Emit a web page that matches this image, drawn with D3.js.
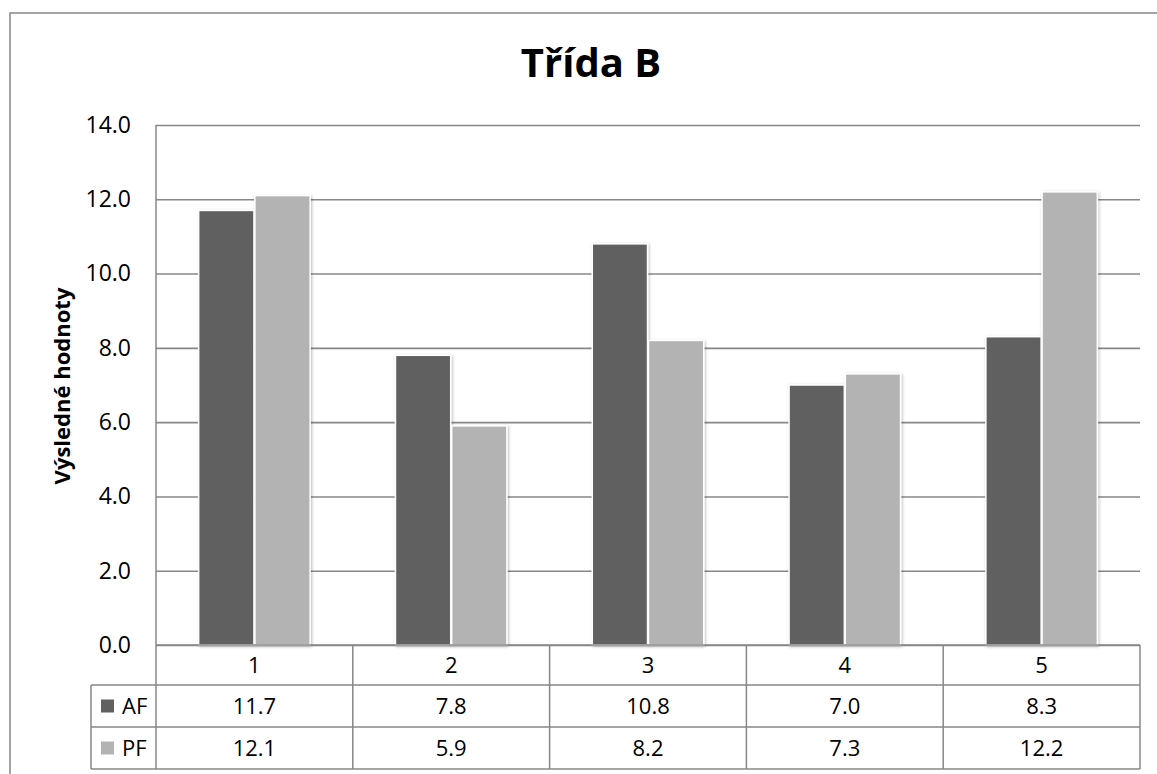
<!DOCTYPE html>
<html>
<head>
<meta charset="utf-8">
<script src="https://cdn.jsdelivr.net/npm/d3@7"></script>
<style>
  html, body { margin: 0; padding: 0; background: #fff; }
  svg { display: block; font-family: "Open Sans", "Noto Sans", sans-serif; }
</style>
</head>
<body>
<svg id="chart" width="1157" height="774"></svg>
<script>
const categories = ["1", "2", "3", "4", "5"];
const seriesNames = ["AF", "PF"];
const afValues = [11.7, 7.8, 10.8, 7.0, 8.3];
const pfValues = [12.1, 5.9, 8.2, 7.3, 12.2];
const yTicks = [0, 2, 4, 6, 8, 10, 12, 14];
const titleText = "Třída B";
const yTitleText = "Výsledné hodnoty";

(function () {
const seriesValues = { AF: afValues, PF: pfValues };
const colors = { AF: "#606060", PF: "#b3b3b3" };
const gridColor = "#878787";

const svg = d3.select("#chart");
const plotLeft = 156, plotRight = 1140, plotTop = 125, plotBottom = 645;
const rowH = [40, 42, 42];
const legendLeft = 91;

const defs = svg.append("defs");
const f = defs.append("filter").attr("id", "shadow").attr("x", "-20%").attr("y", "-20%").attr("width", "140%").attr("height", "140%");
f.append("feDropShadow").attr("dx", 1).attr("dy", 1).attr("stdDeviation", 1.6).attr("flood-color", "#000").attr("flood-opacity", 0.28);

// outer chart border (extends beyond view)
svg.append("rect").attr("x", 10).attr("y", 13).attr("width", 1300).attr("height", 900)
  .attr("fill", "none").attr("stroke", gridColor).attr("stroke-width", 1.5);

const x0 = d3.scaleBand().domain(categories).range([plotLeft, plotRight]).paddingInner(0).paddingOuter(0);
const xs = d3.scaleBand().domain(seriesNames).range([0, x0.bandwidth()]).paddingInner(0).paddingOuter(0.75);
const y = d3.scaleLinear().domain([0, 14]).range([plotBottom, plotTop]);

// gridlines
const grid = svg.append("g").attr("transform", `translate(${plotLeft},0)`)
  .call(d3.axisLeft(y).tickValues(yTicks).tickSize(-(plotRight - plotLeft)).tickFormat(""));
grid.select(".domain").remove();
grid.selectAll(".tick line").attr("stroke", gridColor).attr("stroke-width", 1.6);

// y tick labels
const yAxis = svg.append("g").attr("transform", `translate(${plotLeft},0)`)
  .call(d3.axisLeft(y).tickValues(yTicks).tickSize(0).tickPadding(25).tickFormat(d3.format(".1f")));
yAxis.select(".domain").remove();
yAxis.selectAll("text").attr("font-size", 23).attr("fill", "#000").attr("font-family", '"Open Sans", sans-serif');

// bars
const groups = svg.append("g").selectAll("g").data(categories).join("g")
  .attr("transform", d => `translate(${x0(d)},0)`);
groups.selectAll("rect").data((c, i) => seriesNames.map(s => ({ s, v: seriesValues[s][i] }))).join("rect")
  .attr("x", d => xs(d.s) + 0.5)
  .attr("width", xs.bandwidth() - 1)
  .attr("y", d => y(d.v))
  .attr("height", d => y(0) - y(d.v))
  .attr("fill", d => colors[d.s])
  .attr("stroke", "#fff").attr("stroke-width", 1.5)
  .attr("filter", "url(#shadow)");

// table
const tbl = svg.append("g").attr("stroke", gridColor).attr("stroke-width", 1.5).attr("fill", "none");
const rowY = [plotBottom, plotBottom + rowH[0], plotBottom + rowH[0] + rowH[1], plotBottom + rowH[0] + rowH[1] + rowH[2]];
tbl.append("line").attr("x1", plotLeft).attr("x2", plotRight).attr("y1", rowY[0]).attr("y2", rowY[0]);
[1, 2, 3].forEach(i => tbl.append("line").attr("x1", legendLeft).attr("x2", plotRight).attr("y1", rowY[i]).attr("y2", rowY[i]));
tbl.append("line").attr("x1", plotLeft).attr("x2", plotLeft).attr("y1", plotTop).attr("y2", rowY[3]);
tbl.append("line").attr("x1", legendLeft).attr("x2", legendLeft).attr("y1", rowY[1]).attr("y2", rowY[3]);
categories.forEach(c => {
  const xe = x0(c) + x0.bandwidth();
  tbl.append("line").attr("x1", xe).attr("x2", xe).attr("y1", rowY[0]).attr("y2", rowY[3]);
});

const txt = svg.append("g").attr("font-size", 22).attr("fill", "#000").attr("text-anchor", "middle");
categories.forEach((c, i) => {
  const cx = x0(c) + x0.bandwidth() / 2;
  txt.append("text").attr("x", cx).attr("y", (rowY[0] + rowY[1]) / 2).attr("dy", "0.36em").text(c);
  seriesNames.forEach((s, j) => {
    txt.append("text").attr("x", cx).attr("y", (rowY[j + 1] + rowY[j + 2]) / 2).attr("dy", "0.36em")
      .text(d3.format(".1f")(seriesValues[s][i]));
  });
});
// legend keys
seriesNames.forEach((s, j) => {
  const cy = (rowY[j + 1] + rowY[j + 2]) / 2;
  svg.append("rect").attr("x", 101).attr("y", cy - 6.5).attr("width", 13).attr("height", 13).attr("fill", colors[s]);
  svg.append("text").attr("x", 122).attr("y", cy).attr("dy", "0.36em").attr("font-size", 22).attr("fill", "#000").text(s);
});

// title
svg.append("text").attr("x", 591).attr("y", 77).attr("text-anchor", "middle")
  .attr("font-size", 40).attr("font-weight", "bold").attr("fill", "#000").text(titleText);

// y title, fit to target length
const yt = svg.append("text").attr("transform", "translate(70,386) rotate(-90)")
  .attr("text-anchor", "middle").attr("font-size", 20).attr("font-weight", "bold").attr("fill", "#000").text(yTitleText);
const len = yt.node().getComputedTextLength();
yt.attr("font-size", 20 * 197 / len);
})();
</script>
</body>
</html>
